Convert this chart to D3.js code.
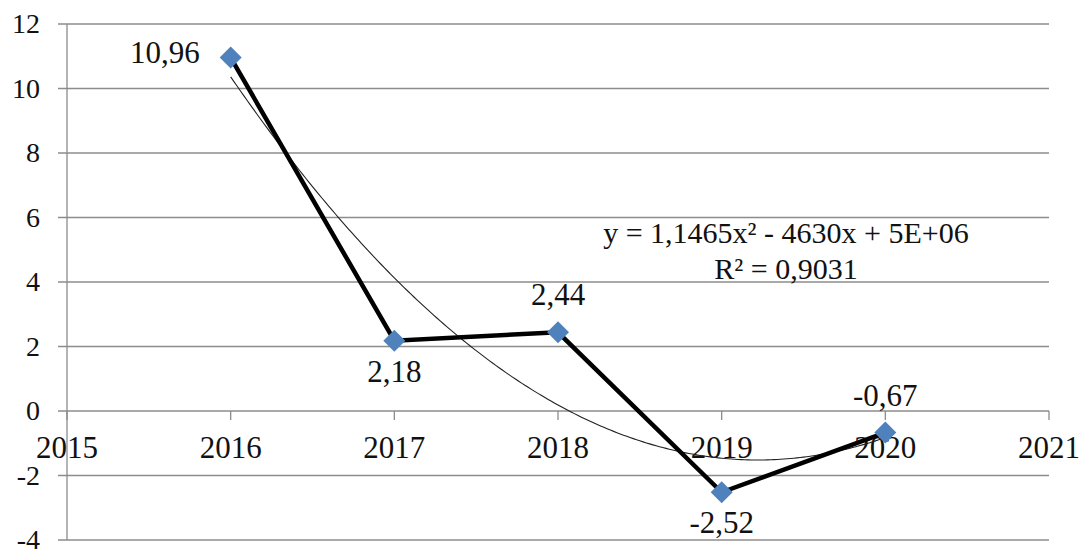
<!DOCTYPE html>
<html>
<head>
<meta charset="utf-8">
<script src="https://cdn.jsdelivr.net/npm/d3@7/dist/d3.min.js"></script>
</head>
<body style="margin:0">
<svg id="growth" width="1087" height="551" style="display:block;background:#fff;font-family:'Times New Roman'"></svg>
<script>
// Yearly values
const years = [2016, 2017, 2018, 2019, 2020];
const values = [10.96, 2.18, 2.44, -2.52, -0.67];
const valueLabels = ["10,96", "2,18", "2,44", "-2,52", "-0,67"];
// label placement per point: "left", "below", "above"
const labelPlacement = ["left", "below", "above", "below", "above"];

const xTicks = [2015, 2016, 2017, 2018, 2019, 2020, 2021];
const yTicks = [-4, -2, 0, 2, 4, 6, 8, 10, 12];
const equationLines = ["y = 1,1465x\u00B2 - 4630x + 5E+06", "R\u00B2 = 0,9031"];

// apply the serif face to a text selection
function serif(sel, size) {
  sel.style("font-family", "'Times New Roman'")
     .style("font-size", size + "px")
     .style("fill", "#111");
}

const svg = d3.select("#growth");
const plotLeft = 67, plotRight = 1049, plotTop = 24, plotBottom = 540;

const x = d3.scaleLinear().domain([2015, 2021]).range([plotLeft, plotRight]);
const y = d3.scaleLinear().domain([-4, 12]).range([plotBottom, plotTop]);

const gridColor = "#8c8c8c";

// horizontal grid lines with small ticks on the left
svg.append("g").selectAll("line").data(yTicks).join("line")
  .attr("x1", plotLeft - 9).attr("x2", plotRight)
  .attr("y1", d => y(d)).attr("y2", d => y(d))
  .attr("stroke", gridColor).attr("stroke-width", 1.3);

// vertical axis line
svg.append("line")
  .attr("x1", plotLeft).attr("x2", plotLeft).attr("y1", y(12)).attr("y2", y(-4))
  .attr("stroke", gridColor).attr("stroke-width", 1.3);

// tick marks below the zero line
svg.append("g").selectAll("line").data(xTicks).join("line")
  .attr("x1", d => x(d)).attr("x2", d => x(d))
  .attr("y1", y(0)).attr("y2", y(0) + 9)
  .attr("stroke", gridColor).attr("stroke-width", 1.3);

// y tick labels
svg.append("g").selectAll("text").data(yTicks).join("text")
  .attr("x", 40).attr("y", d => y(d) + 9)
  .attr("text-anchor", "end")
  .call(serif, 28)
  .text(d => d);

// x tick labels
svg.append("g").selectAll("text").data(xTicks).join("text")
  .attr("x", d => x(d)).attr("y", y(0) + 47)
  .attr("text-anchor", "middle")
  .call(serif, 31)
  .text(d => d);

// polynomial (order 2) least-squares trendline through the points
function quadFit(xs, ys) {
  const m = d3.mean(xs);
  const u = xs.map(v => v - m);
  const S = k => d3.sum(u, v => Math.pow(v, k));
  const n = u.length;
  const Sy = d3.sum(ys), Sxy = d3.sum(u, (v, i) => v * ys[i]), Sx2y = d3.sum(u, (v, i) => v * v * ys[i]);
  const A = [[S(4), S(3), S(2)], [S(3), S(2), S(1)], [S(2), S(1), n]];
  const B = [Sx2y, Sxy, Sy];
  // solve 3x3 by Cramer's rule
  const det = M => M[0][0]*(M[1][1]*M[2][2]-M[1][2]*M[2][1]) - M[0][1]*(M[1][0]*M[2][2]-M[1][2]*M[2][0]) + M[0][2]*(M[1][0]*M[2][1]-M[1][1]*M[2][0]);
  const D = det(A);
  const col = (j) => A.map((row, i) => row.map((v, k) => k === j ? B[i] : v));
  const a = det(col(0)) / D, b = det(col(1)) / D, c = det(col(2)) / D;
  return t => a * (t - m) * (t - m) + b * (t - m) + c;
}
const fit = quadFit(years, values);
const trendPts = d3.range(0, 201).map(i => {
  const t = years[0] + (years[years.length - 1] - years[0]) * i / 200;
  return [t, fit(t)];
});
svg.append("path")
  .attr("d", d3.line().x(d => x(d[0])).y(d => y(d[1]))(trendPts))
  .attr("fill", "none").attr("stroke", "#222").attr("stroke-width", 1.1);

// main series line
const pts = years.map((yr, i) => [yr, values[i]]);
svg.append("path")
  .attr("d", d3.line().x(d => x(d[0])).y(d => y(d[1]))(pts))
  .attr("fill", "none").attr("stroke", "#000").attr("stroke-width", 4.5)
  .attr("stroke-linejoin", "miter");

// diamond markers
const r = 11;
svg.append("g").selectAll("path").data(pts).join("path")
  .attr("d", d => {
    const cx = x(d[0]), cy = y(d[1]);
    return `M${cx},${cy - r}L${cx + r},${cy}L${cx},${cy + r}L${cx - r},${cy}Z`;
  })
  .attr("fill", "#4f81bd");

// value labels
svg.append("g").selectAll("text").data(pts).join("text")
  .call(serif, 31)
  .attr("text-anchor", (d, i) => labelPlacement[i] === "left" ? "end" : "middle")
  .attr("x", (d, i) => labelPlacement[i] === "left" ? x(d[0]) - 31 : x(d[0]))
  .attr("y", (d, i) => {
    const cy = y(d[1]);
    if (labelPlacement[i] === "left") return cy + 5;
    if (labelPlacement[i] === "below") return cy + 41;
    return cy - 27;
  })
  .text((d, i) => valueLabels[i]);

// trendline equation
svg.append("g").selectAll("text").data(equationLines).join("text")
  .attr("x", 786).attr("y", (d, i) => 243 + i * 36)
  .attr("text-anchor", "middle")
  .call(serif, 30)
  .text(d => d);
</script>
</body>
</html>
